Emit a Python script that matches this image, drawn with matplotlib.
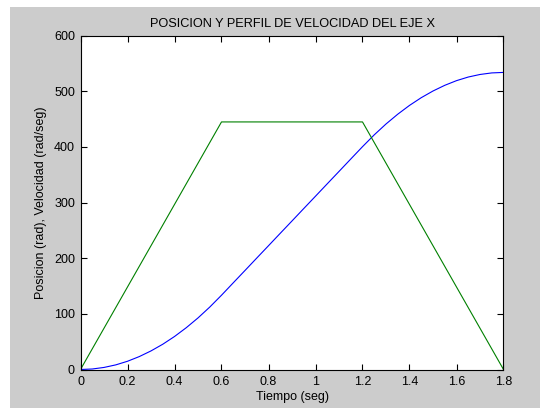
import matplotlib
matplotlib.use("Agg")
import matplotlib.pyplot as plt
from matplotlib.patches import Rectangle

# Data
tiempo_pos = [0.00, 0.05, 0.10, 0.15, 0.20, 0.25, 0.30, 0.35, 0.40, 0.45,
              0.50, 0.55, 0.60, 0.65, 0.70, 0.75, 0.80, 0.85, 0.90, 0.95,
              1.00, 1.05, 1.10, 1.15, 1.20, 1.25, 1.30, 1.35, 1.40, 1.45,
              1.50, 1.55, 1.60, 1.65, 1.70, 1.75, 1.80]
posicion = [0.0, 0.9, 3.7, 8.3, 14.8, 23.2, 33.4, 45.4, 59.3, 75.1,
            92.7, 112.2, 133.5, 155.8, 178.0, 200.3, 222.5, 244.8, 267.0, 289.3,
            311.5, 333.8, 356.0, 378.3, 400.5, 421.8, 441.3, 458.9, 474.7, 488.6,
            500.6, 510.8, 519.2, 525.7, 530.3, 533.1, 534.0]

tiempo_vel = [0.0, 0.6, 1.2, 1.8]
velocidad = [0.0, 445.0, 445.0, 0.0]

xticks = [0, 0.2, 0.4, 0.6, 0.8, 1, 1.2, 1.4, 1.6, 1.8]
xticklabels = ["0", "0.2", "0.4", "0.6", "0.8", "1", "1.2", "1.4", "1.6", "1.8"]
yticks = [0, 100, 200, 300, 400, 500, 600]

plt.rcParams['font.family'] = ['Liberation Sans', 'DejaVu Sans']

fig = plt.figure(figsize=(5.4, 4.08), dpi=100)
fig.patch.set_facecolor('white')
# MATLAB-style gray figure panel
fig.patches.append(Rectangle((10 / 540, 0), 1 - 10 / 540, 1 - 7 / 408,
                             transform=fig.transFigure, facecolor='#cccccc',
                             edgecolor='none', zorder=-10))

ax = fig.add_axes([80.5 / 540, 1 - 369.5 / 408, (503.5 - 80.5) / 540, (369.5 - 35.7) / 408])
ax.set_zorder(1)
ax.set_facecolor('white')
ax.plot(tiempo_pos, posicion, color='#0000ff', linewidth=0.8)
ax.plot(tiempo_vel, velocidad, color='#008000', linewidth=0.8)

ax.set_xlim(0, 1.8)
ax.set_ylim(0, 600)
ax.set_xticks(xticks)
ax.set_xticklabels(xticklabels)
ax.set_yticks(yticks)
ax.tick_params(direction='in', length=4, width=0.8, top=True, right=True,
               labelsize=9, colors='black')
ax.tick_params(axis='x', pad=5)
ax.tick_params(axis='y', pad=4)
for s in ax.spines.values():
    s.set_linewidth(0.8)
    s.set_color('black')

ax.set_title('POSICION Y PERFIL DE VELOCIDAD DEL EJE X', fontsize=9.2, pad=6)
ax.set_xlabel('Tiempo (seg)', fontsize=9, labelpad=2)
ax.set_ylabel('Posicion (rad), Velocidad (rad/seg)', fontsize=9, labelpad=5)

fig.savefig('out.png', dpi=100, facecolor=fig.get_facecolor())
